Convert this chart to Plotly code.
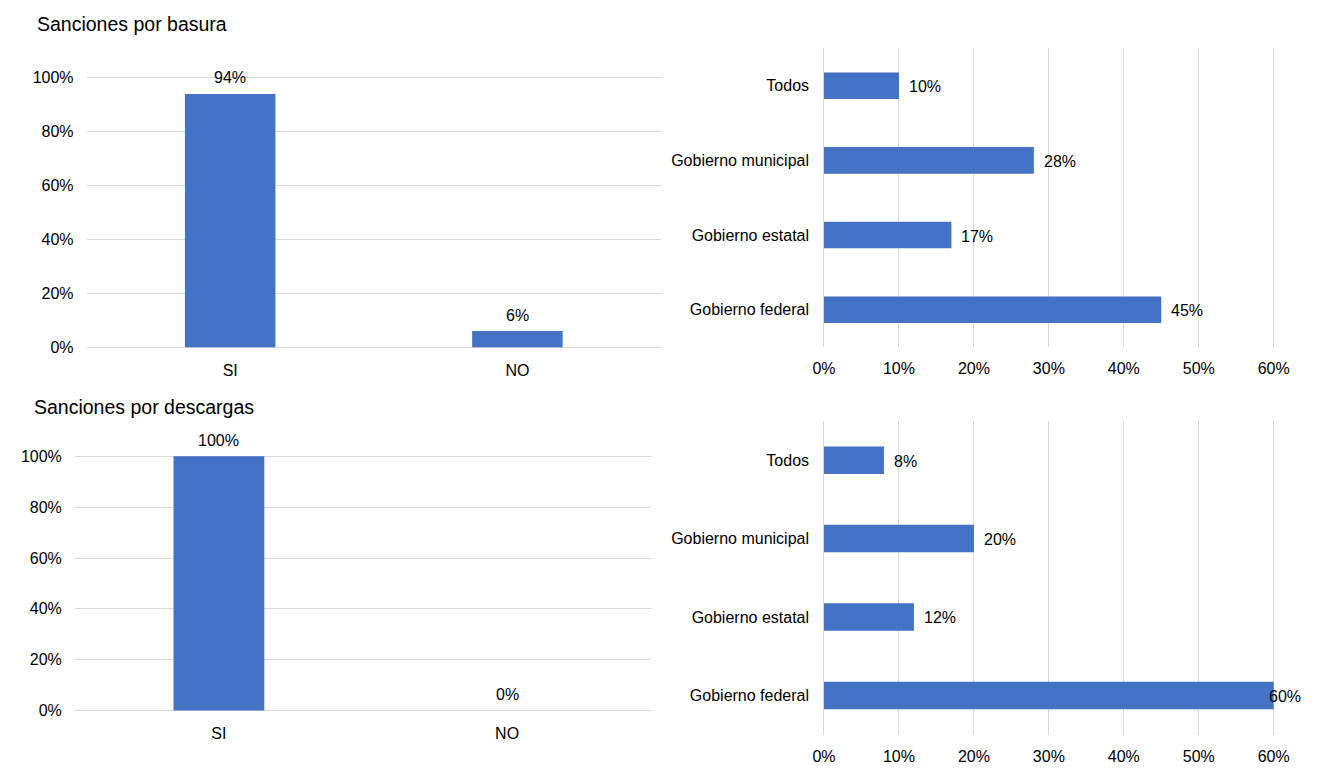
import plotly.graph_objects as go

W, H = 1326, 778

# datos
respuestas = ["SI", "NO"]
basura_resp = [0.94, 0.06]
descargas_resp = [1.00, 0.00]

niveles = ["Todos", "Gobierno municipal", "Gobierno estatal", "Gobierno federal"]
basura_nivel = [0.10, 0.28, 0.17, 0.45]
descargas_nivel = [0.08, 0.20, 0.12, 0.60]

AZUL = "#4472C4"
GRIS = "#D9D9D9"
FUENTE = "Liberation Sans, Arial, sans-serif"
Y_MAX = 1.0
X_MAX = 0.6
PAD = 2  # px extra so the end gridlines are drawn


def dom_x(a, b):
    return [a / W, b / W]


def dom_y(top, bottom):
    return [1 - bottom / H, 1 - top / H]


def eje_valor(p0, p1, vmax):
    # p0: pixel of 0, p1: pixel of vmax -> (domain pixels, range)
    extra = PAD * vmax / abs(p1 - p0)
    lo, hi = sorted([p0, p1])
    return (lo - PAD, hi + PAD), [-extra, vmax + extra]


fig = go.Figure()

# columnas SI / NO
for vals, ax in [(basura_resp, ""), (descargas_resp, "2")]:
    fig.add_trace(go.Bar(x=respuestas, y=vals, width=0.315, marker=dict(color=AZUL, line=dict(width=0)),
                         xaxis="x" + ax, yaxis="y" + ax, hoverinfo="skip"))

# barras por nivel de gobierno
for vals, ax, w in [(basura_nivel, "3", 0.355), (descargas_nivel, "4", 0.35)]:
    fig.add_trace(go.Bar(y=niveles, x=vals, orientation="h", width=w, marker=dict(color=AZUL, line=dict(width=0)),
                         xaxis="x" + ax, yaxis="y" + ax, hoverinfo="skip"))

annotations = []
for vals, ax in [(basura_resp, ""), (descargas_resp, "2")]:
    for cat, v in zip(respuestas, vals):
        annotations.append(dict(x=cat, y=v, xref="x" + ax, yref="y" + ax, text=f"{v:.0%}",
                                showarrow=False, yanchor="middle", yshift=16))

for vals, ax in [(basura_nivel, "3"), (descargas_nivel, "4")]:
    for cat, v in zip(niveles, vals):
        shift = -7 if v >= X_MAX else 8
        annotations.append(dict(x=v, y=cat, xref="x" + ax, yref="y" + ax, text=f"{v:.0%}",
                                showarrow=False, xanchor="left", yanchor="middle", xshift=shift, yshift=-1))

annotations.append(dict(x=25 / W, y=1 - 18 / H, xref="paper", yref="paper", text="Sanciones por basura",
                        showarrow=False, xanchor="left", yanchor="middle", font=dict(size=19.5)))
annotations.append(dict(x=22 / W, y=1 - 408 / H, xref="paper", yref="paper", text="Sanciones por descargas",
                        showarrow=False, xanchor="left", yanchor="middle", font=dict(size=19.5)))

cat_x = dict(showgrid=False, showline=False, zeroline=False, ticks="", ticklabelstandoff=10)
pct_y = dict(dtick=0.2, tickformat=".0%", gridcolor=GRIS, gridwidth=1,
             zeroline=False, showline=False, ticks="", ticklabelstandoff=12)
pct_x = dict(dtick=0.1, tickformat=".0%", gridcolor=GRIS, gridwidth=1,
             zeroline=False, showline=False, ticks="", ticklabelstandoff=10)
cat_y = dict(showgrid=False, showline=False, zeroline=False, ticks="", autorange="reversed",
             ticklabelstandoff=12)

(y1_top, y1_bot), y1_rng = eje_valor(347, 73, Y_MAX)
(y2_top, y2_bot), y2_rng = eje_valor(716.5, 458, Y_MAX)
(x_izq, x_der), x_rng = eje_valor(829, 1287, X_MAX)

fig.update_layout(
    width=W, height=H,
    margin=dict(l=0, r=0, t=0, b=0),
    paper_bgcolor="white", plot_bgcolor="white",
    showlegend=False,
    font=dict(family=FUENTE, size=16, color="#000000"),
    xaxis=dict(domain=dom_x(78, 663), anchor="y", **cat_x),
    yaxis=dict(domain=dom_y(y1_top, y1_bot), range=y1_rng, anchor="x", **pct_y),
    xaxis2=dict(domain=dom_x(66, 653), anchor="y2", **cat_x),
    yaxis2=dict(domain=dom_y(y2_top, y2_bot), range=y2_rng, anchor="x2", **pct_y),
    xaxis3=dict(domain=dom_x(x_izq, x_der), range=x_rng, anchor="y3", **pct_x),
    yaxis3=dict(domain=dom_y(43, 347), anchor="x3", **cat_y),
    xaxis4=dict(domain=dom_x(x_izq, x_der), range=x_rng, anchor="y4", **pct_x),
    yaxis4=dict(domain=dom_y(422, 741), anchor="x4", **cat_y),
    annotations=annotations,
)

fig.write_html("out.html", config={"displayModeBar": False},
               post_script="document.body.style.margin='0';document.body.style.overflow='hidden';")
